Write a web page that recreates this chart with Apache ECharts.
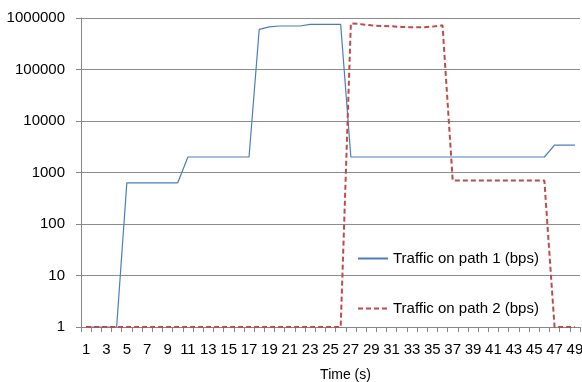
<!DOCTYPE html>
<html><head><meta charset="utf-8">
<script src="https://cdn.jsdelivr.net/npm/echarts@6/dist/echarts.min.js"></script>
<style>html,body{margin:0;padding:0;background:#fff}#c{width:582px;height:382px}</style>
</head><body><div id="c"></div>
<script>
var categories = ['1','2','3','4','5','6','7','8','9','10','11','12','13','14','15','16','17','18','19','20','21','22','23','24','25','26','27','28','29','30','31','32','33','34','35','36','37','38','39','40','41','42','43','44','45','46','47','48','49'];
var path1 = [1,1,1,1,630,630,630,630,630,630,2000,2000,2000,2000,2000,2000,2000,600000,670000,700000,700000,700000,750000,750000,750000,750000,2000,2000,2000,2000,2000,2000,2000,2000,2000,2000,2000,2000,2000,2000,2000,2000,2000,2000,2000,2000,3400,3400,3400];
var path2 = [1,1,1,1,1,1,1,1,1,1,1,1,1,1,1,1,1,1,1,1,1,1,1,1,1,1,790000,760000,720000,700000,690000,670000,660000,660000,680000,720000,700,700,700,700,700,700,700,700,700,700,1,1,1];
var seriesNames = ['Traffic on path 1 (bps)','Traffic on path 2 (bps)'];
var xTitle = 'Time (s)';

var font = 'Liberation Sans';
var chart = echarts.init(document.getElementById('c'));
chart.setOption({
  animation: false,
  textStyle: {fontFamily: font},
  grid: {left: 81, right: 2, top: 18, bottom: 55, containLabel: false, outerBoundsMode: 'none'},
  legend: {
    orient: 'vertical', left: 352, top: 246, itemWidth: 30, itemHeight: 14, itemGap: 35,
    itemStyle: {opacity: 0},
    textStyle: {fontFamily: font, fontSize: 15, color: '#000'},
    data: seriesNames
  },
  xAxis: {
    type: 'category', data: categories, boundaryGap: true,
    name: xTitle, nameLocation: 'middle', nameGap: 41,
    nameTextStyle: {fontFamily: font, fontSize: 14, color: '#000', padding: [0, 0, 0, 30]},
    axisLine: {lineStyle: {color: '#868686'}},
    axisTick: {show: true, interval: 0, length: 5, lineStyle: {color: '#868686'}},
    axisLabel: {interval: 1, margin: 15, fontSize: 15, color: '#000', fontFamily: font, hideOverlap: false},
    splitLine: {show: false}
  },
  yAxis: {
    type: 'log', logBase: 10, min: 1, max: 1000000,
    axisLine: {show: true, lineStyle: {color: '#868686'}},
    axisTick: {show: true, length: 5, lineStyle: {color: '#868686'}},
    axisLabel: {margin: 16, fontSize: 15, color: '#000', fontFamily: font,
      formatter: function (v) { return String(Math.round(v)); }},
    splitLine: {show: true, lineStyle: {color: '#8c8c8c', width: 1}}
  },
  series: [
    {name: seriesNames[0], type: 'line', data: path1, symbol: 'none',
     lineStyle: {color: '#4a7ebb', width: 1.2}, itemStyle: {color: '#4a7ebb'}},
    {name: seriesNames[1], type: 'line', data: path2, symbol: 'none',
     lineStyle: {color: '#be4b48', width: 2, type: [5, 3]}, itemStyle: {color: '#be4b48'}}
  ]
});
</script></body></html>
